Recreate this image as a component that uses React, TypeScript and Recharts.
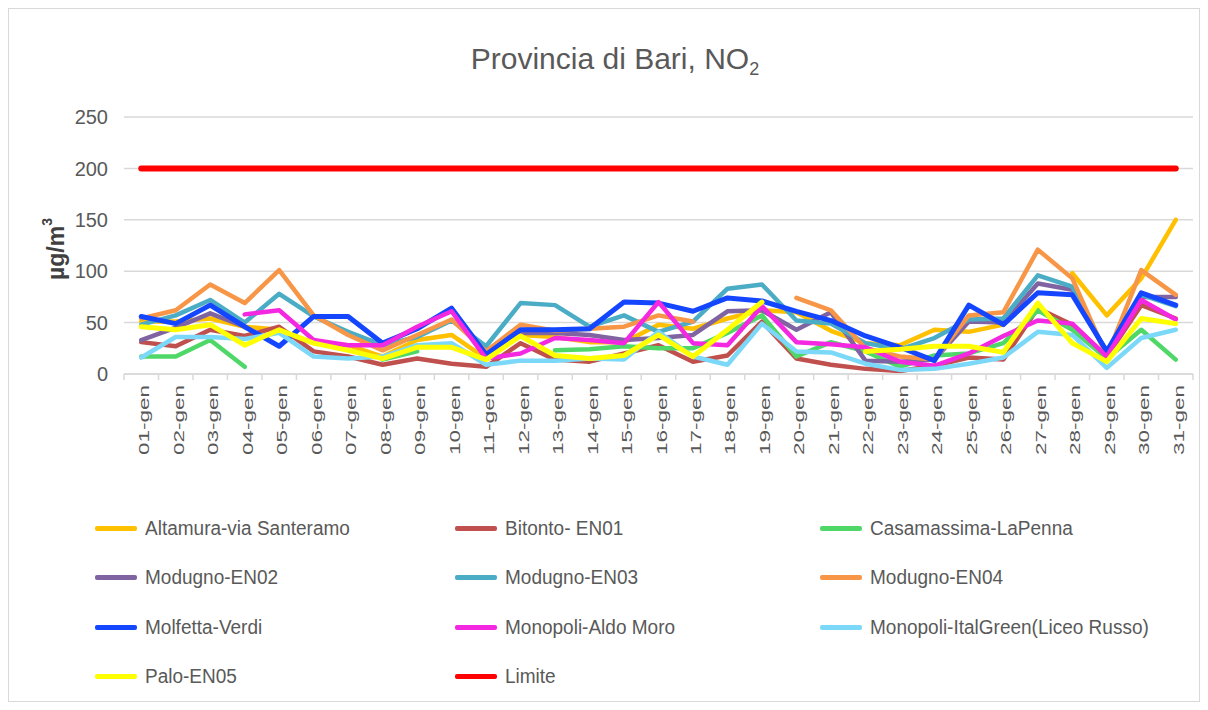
import React from "react";
import { LineChart, Line, XAxis, YAxis, CartesianGrid } from "recharts";

const days = [
  "01-gen", "02-gen", "03-gen", "04-gen", "05-gen", "06-gen", "07-gen", "08-gen", "09-gen", "10-gen",
  "11-gen", "12-gen", "13-gen", "14-gen", "15-gen", "16-gen", "17-gen", "18-gen", "19-gen", "20-gen",
  "21-gen", "22-gen", "23-gen", "24-gen", "25-gen", "26-gen", "27-gen", "28-gen", "29-gen", "30-gen", "31-gen",
];

const altamura = [51, 51, 54, 46, 43, 30, 28, 17, 33, 38, 15, 38, 36, 31, 31, 48, 44, 54, 62, 60, 42, 30, 28, 43, 41, 48, null, 98, 57, 93, 150];
const bitonto = [31, 27, 43, 37, 46, 22, 17, 9, 15, 10, 7, 30, 14, 12, 20, 28, 12, 18, 51, 15, 9, 5, 3, 8, 16, 14, 64, 48, 17, 67, 54];
const casamassima = [17, 17, 33, 7, null, null, null, 14, 22, null, null, null, 23, 24, 27, 25, 25, 40, 57, 17, 31, 22, 7, 18, 20, 30, 62, 43, 15, 43, 14];
const modugnoEN02 = [33, 45, 59, 46, null, null, null, null, null, null, null, 40, 40, 38, 33, 35, 38, 61, 62, 43, 60, 13, 12, 14, 51, 50, 88, 82, 20, 75, 75];
const modugnoEN03 = [48, 57, 72, 50, 78, 56, 41, 28, 36, 52, 27, 69, 67, 46, 57, 41, 51, 83, 87, 52, 49, 30, 24, 35, 53, 54, 96, 85, 20, 77, 66];
const modugnoEN04 = [54, 62, 87, 69, 101, 57, 38, 23, 38, 53, 22, 48, 42, 44, 46, 57, 51, null, null, 74, 62, 25, 17, 14, 57, 60, 121, 93, 17, 101, 77];
const molfetta = [56, 49, 67, 46, 27, 56, 56, 30, 44, 64, 19, 43, 43, 44, 70, 69, 61, 74, 71, 61, 52, 37, 26, 13, 67, 48, 79, 77, 22, 79, 67];
const aldoMoro = [null, null, null, 58, 62, 33, 28, 28, 46, 61, 15, 20, 35, 33, 30, 70, 30, 28, 66, 31, 29, 26, 12, 8, 20, 37, 52, 49, 17, 72, 53];
const italGreen = [16, 36, 36, 34, 40, 17, 15, 17, 28, 30, 9, 13, 13, 15, 14, 41, 17, 9, 49, 22, 21, 10, 4, 5, 10, 16, 41, 38, 6, 35, 43];
const palo = [46, 43, 48, 28, 43, 30, 23, 15, 26, 26, 14, 37, 18, 15, 18, 38, 17, 43, 70, null, null, 22, 24, 27, 27, 21, 69, 30, 12, 54, 49];
const limite = [200, 200, 200, 200, 200, 200, 200, 200, 200, 200, 200, 200, 200, 200, 200, 200, 200, 200, 200, 200, 200, 200, 200, 200, 200, 200, 200, 200, 200, 200, 200];

const yTicks = [0, 50, 100, 150, 200, 250];

const series = [
  { key: "altamura", name: "Altamura-via Santeramo", color: "#FFC000", values: altamura, width: 4.5 },
  { key: "bitonto", name: "Bitonto- EN01", color: "#C0504D", values: bitonto, width: 4.5 },
  { key: "casamassima", name: "Casamassima-LaPenna", color: "#4FD868", values: casamassima, width: 4.5 },
  { key: "en02", name: "Modugno-EN02", color: "#8064A2", values: modugnoEN02, width: 4.5 },
  { key: "en03", name: "Modugno-EN03", color: "#4BACC6", values: modugnoEN03, width: 4.5 },
  { key: "en04", name: "Modugno-EN04", color: "#F79646", values: modugnoEN04, width: 4.5 },
  { key: "molfetta", name: "Molfetta-Verdi", color: "#1446FF", values: molfetta, width: 5 },
  { key: "aldomoro", name: "Monopoli-Aldo Moro", color: "#F528E2", values: aldoMoro, width: 4.5 },
  { key: "italgreen", name: "Monopoli-ItalGreen(Liceo Russo)", color: "#7BD8F8", values: italGreen, width: 4.5 },
  { key: "palo", name: "Palo-EN05", color: "#FFFF00", values: palo, width: 5 },
  { key: "limite", name: "Limite", color: "#FF0000", values: limite, width: 6 },
];

const data = days.map((d, i) => {
  const row: Record<string, any> = { day: d };
  series.forEach((s) => {
    row[s.key] = s.values[i];
  });
  return row;
});

// layout
const W = 1190;
const H = 692;
const PLOT_LEFT = 115;
const PLOT_RIGHT = 1184;
const PLOT_TOP = 108;
const PLOT_BOTTOM = 365;
const X_AXIS_H = 90;
const Y_AXIS_W = 70;
const BAND = (PLOT_RIGHT - PLOT_LEFT) / days.length;

const SANS = "'Liberation Sans', Arial, sans-serif";
const GRAY = "#595959";
const GRID = "#d9d9d9";

const XTick = (props: any) => {
  const { x, payload, index } = props;
  const half = BAND / 2;
  return (
    <g>
      <line x1={x - half} y1={PLOT_BOTTOM} x2={x - half} y2={PLOT_BOTTOM + 6} stroke={GRID} strokeWidth={1.5} />
      {index === days.length - 1 ? (
        <line x1={x + half} y1={PLOT_BOTTOM} x2={x + half} y2={PLOT_BOTTOM + 6} stroke={GRID} strokeWidth={1.5} />
      ) : null}
      <text
        transform={`translate(${x + 3}, ${PLOT_BOTTOM + 11}) rotate(-90)`}
        textAnchor="end"
        dominantBaseline="central"
        fontSize={14}
        fontFamily={SANS}
        fill={GRAY}
        textLength={70}
        lengthAdjust="spacingAndGlyphs"
      >
        {payload.value}
      </text>
    </g>
  );
};

const YLabel = () => (
  <text
    transform={`translate(47, 240) rotate(-90)`}
    textAnchor="middle"
    dominantBaseline="central"
    fontSize={23}
    fontWeight="bold"
    fontFamily={SANS}
    fill="#404040"
  >
    µg/m
    <tspan fontSize={14} dy={-9}>3</tspan>
  </text>
);

const legendCols = [86, 446, 811];
const legendRows = [519, 568, 618, 667];

export default function App() {
  return (
    <div style={{ position: "relative", width: W, height: H, border: `1px solid ${GRID}`, background: "#fff" }}>
      <div
        style={{
          position: "absolute",
          left: 606,
          top: 35,
          transform: "translateX(-50%)",
          whiteSpace: "nowrap",
          fontFamily: SANS,
          fontSize: 30,
          lineHeight: "30px",
          color: GRAY,
        }}
      >
        Provincia di Bari, NO<sub style={{ fontSize: 18, verticalAlign: "-6px" }}>2</sub>
      </div>
      <LineChart
        width={W}
        height={H}
        data={data}
        margin={{ top: PLOT_TOP, right: W - PLOT_RIGHT, bottom: H - PLOT_BOTTOM - X_AXIS_H, left: PLOT_LEFT - Y_AXIS_W }}
      >
        <CartesianGrid horizontal vertical={false} stroke={GRID} strokeWidth={1.5} />
        <XAxis
          dataKey="day"
          type="category"
          height={X_AXIS_H}
          interval={0}
          padding={{ left: BAND / 2, right: BAND / 2 }}
          axisLine={{ stroke: GRID, strokeWidth: 1.5 }}
          tickLine={false}
          tick={<XTick />}
        />
        <YAxis
          width={Y_AXIS_W}
          domain={[0, 250]}
          ticks={yTicks}
          axisLine={false}
          tickLine={false}
          tickSize={6}
          tickMargin={10}
          tick={{ fontSize: 20, fill: GRAY, fontFamily: SANS }}
          label={<YLabel />}
        />
        {series.map((s) => (
          <Line
            key={s.key}
            type="linear"
            dataKey={s.key}
            name={s.name}
            stroke={s.color}
            strokeWidth={s.width}
            dot={false}
            activeDot={false}
            connectNulls={false}
            strokeLinejoin="round"
            strokeLinecap="round"
            isAnimationActive={false}
          />
        ))}
      </LineChart>
      {series.map((s, i) => {
        const col = i % 3;
        const row = Math.floor(i / 3);
        return (
          <div
            key={s.key}
            style={{
              position: "absolute",
              left: legendCols[col],
              top: legendRows[row] - 12,
              height: 24,
              display: "flex",
              alignItems: "center",
              whiteSpace: "nowrap",
              fontFamily: SANS,
              fontSize: 20,
              color: GRAY,
            }}
          >
            <span style={{ display: "inline-block", width: 42, height: 5, borderRadius: 2, background: s.color, marginRight: 8 }} />
            <span style={{ display: "inline-block", transform: "scaleX(0.95)", transformOrigin: "left center" }}>{s.name}</span>
          </div>
        );
      })}
    </div>
  );
}
